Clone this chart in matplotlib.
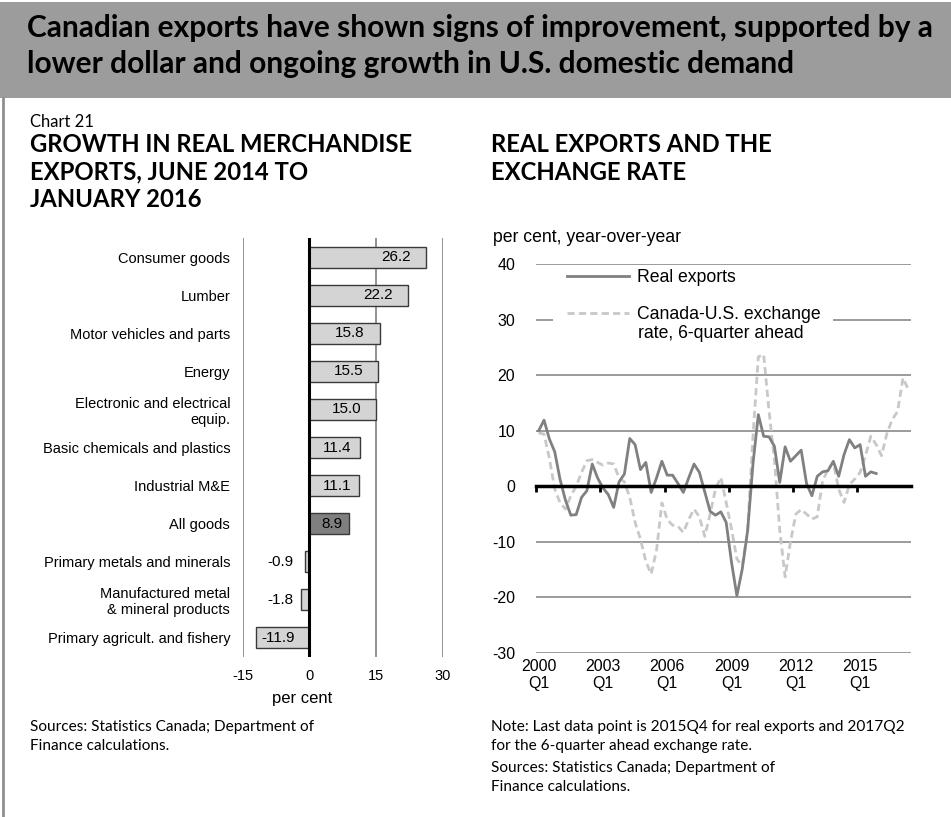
import matplotlib
matplotlib.use("Agg")
import matplotlib.pyplot as plt
from matplotlib.patches import Rectangle
from matplotlib.lines import Line2D

plt.rcParams["axes.unicode_minus"] = False

W, H = 951, 817

# left panel: growth in real merchandise exports, June 2014 to January 2016
categories = [
    "Consumer goods",
    "Lumber",
    "Motor vehicles and parts",
    "Energy",
    "Electronic and electrical\nequip.",
    "Basic chemicals and plastics",
    "Industrial M&E",
    "All goods",
    "Primary metals and minerals",
    "Manufactured metal\n& mineral products",
    "Primary agricult. and fishery",
]
growth = [26.2, 22.2, 15.8, 15.5, 15.0, 11.4, 11.1, 8.9, -0.9, -1.8, -11.9]
highlight = "All goods"
bar_ticks = [-15, 0, 15, 30]

# right panel: quarterly, year-over-year per cent, from 2000Q1
real_exports = [
    10.0, 11.9, 8.5, 6.2, 1.2, -2.5, -5.2, -5.1, -2.0, -0.8,
    4.0, 1.5, -0.3, -1.5, -3.8, 0.8, 2.2, 8.6, 7.5, 3.0,
    4.3, -1.1, 1.5, 4.5, 2.0, 2.0, 0.5, -1.1, 1.5, 4.0,
    2.5, -1.0, -4.5, -5.2, -4.6, -6.5, -13.7, -19.7, -14.9, -8.0,
    4.0, 12.9, 9.0, 8.9, 7.2, 0.7, 7.1, 4.5, 5.5, 6.5,
    0.5, -1.7, 1.8, 2.6, 2.8, 4.5, 1.8, 5.7, 8.4, 6.9,
    7.5, 1.8, 2.6, 2.3,
]
fx_6q_ahead = [
    9.6, 9.4, 5.0, -0.5, -3.0, -4.1, -1.7, 0.0, 2.5, 4.6,
    4.8, 4.3, 3.8, 4.2, 4.0, 1.5, 0.8, -2.0, -6.5, -9.5,
    -13.5, -15.8, -11.5, -3.0, -6.0, -7.0, -7.2, -8.3, -6.0, -4.1,
    -5.5, -9.0, -5.0, -0.5, 1.6, -2.9, -7.7, -13.1, -14.3, -8.0,
    9.0, 23.3, 23.7, 13.5, 4.8, -7.9, -16.3, -10.0, -5.0, -4.2,
    -5.0, -5.9, -5.5, 1.0, 3.0, 4.3, -0.5, -2.9, 0.3, 1.3,
    2.5, 5.5, 9.0, 7.5, 5.5, 9.5, 12.0, 13.5, 19.5, 17.4,
]
quarters = [f"{2000 + i // 4}Q{i % 4 + 1}" for i in range(len(fx_6q_ahead))]
label_every = 12
line_yticks = [-30, -20, -10, 0, 10, 20, 30, 40]

ARIAL = "Liberation Sans"
MYRIAD = "Lato"
NOTE_SIZE = 11.1


def fx(x):
    return x / W


def fy(y):
    return 1 - y / H


def bar_label_x(v):
    if v < 0:
        return min(-6.4, v * 0.6)
    return max(v - 6.7, v / 2 + 0.6)


fig = plt.figure(figsize=(W / 100, H / 100), dpi=100)

# header band and page rule
fig.patches.append(Rectangle((0, fy(98)), 1, fy(2) - fy(98), transform=fig.transFigure,
                             facecolor="#9c9c9c", edgecolor="none", zorder=0))
fig.add_artist(Line2D([fx(3), fx(3)], [0, fy(98)], color="#8f8f8f", lw=2))

fig.text(fx(27), fy(37), "Canadian exports have shown signs of improvement, supported by a",
         family=MYRIAD, weight="bold", fontsize=21.5, va="baseline")
fig.text(fx(27), fy(73), "lower dollar and ongoing growth in U.S. domestic demand",
         family=MYRIAD, weight="bold", fontsize=21.5, va="baseline")

fig.text(fx(30), fy(127), "Chart 21", family=MYRIAD, fontsize=12, va="baseline")
for k, line in enumerate(["GROWTH IN REAL MERCHANDISE", "EXPORTS, JUNE 2014 TO", "JANUARY 2016"]):
    fig.text(fx(30), fy(152 + 27.5 * k), line, family=MYRIAD, weight="bold", fontsize=17.2, va="baseline")
for k, line in enumerate(["REAL EXPORTS AND THE", "EXCHANGE RATE"]):
    fig.text(fx(491), fy(152 + 27.5 * k), line, family=MYRIAD, weight="bold", fontsize=17.2, va="baseline")

# ---- left: horizontal bars
ax1 = fig.add_axes([fx(242.7), fy(656.7), (442.7 - 242.7) / W, (656.7 - 238.3) / H])
pos = list(range(len(categories)))
colors = ["#7f7f7f" if c == highlight else "#d4d4d4" for c in categories]
ax1.barh(pos, growth, height=0.56, color=colors, edgecolor="#3a3a3a", linewidth=1, zorder=3)
for p, v in zip(pos, growth):
    ax1.text(bar_label_x(v), p, f"{v:.1f}", ha="center", va="center",
             family=ARIAL, fontsize=11, zorder=4)
ax1.set_xlim(-15, 30)
ax1.set_ylim(len(categories) - 0.5, -0.5)
ax1.set_xticks(bar_ticks)
ax1.set_yticks(pos, categories)
for s in ax1.spines.values():
    s.set_visible(False)
ax1.grid(axis="x", color="#8a8a8a", lw=1.3, zorder=1)
ax1.axvline(0, color="black", lw=2.2, zorder=5)
ax1.tick_params(length=0, labelsize=10.5)
ax1.tick_params(axis="y", pad=9)
ax1.tick_params(axis="x", pad=9)
for t in ax1.get_xticklabels() + ax1.get_yticklabels():
    t.set_family(ARIAL)
    t.set_linespacing(1.15)
fig.text(fx(302), fy(698), "per cent", ha="center", va="center", family=ARIAL, fontsize=12)

fig.text(fx(30), fy(731), "Sources: Statistics Canada; Department of", family=MYRIAD, fontsize=NOTE_SIZE, va="baseline")
fig.text(fx(30), fy(750), "Finance calculations.", family=MYRIAD, fontsize=NOTE_SIZE, va="baseline")

# ---- right: lines
ax2 = fig.add_axes([fx(536), fy(653), (911 - 536) / W, (653 - 264) / H])
idx = list(range(len(quarters)))
ax2.plot(idx[:len(real_exports)], real_exports, color="#808080", lw=2.0, zorder=4,
         label="Real exports")
ax2.plot(idx, fx_6q_ahead, color="#c8c8c8", lw=2.0, ls=(0, (2.6, 1.5)), zorder=3,
         label="Canada-U.S. exchange")
ax2.set_xlim(-0.5, len(quarters) - 0.5)
ax2.set_ylim(line_yticks[0], line_yticks[-1])
ax2.set_yticks(line_yticks)
xt = idx[::label_every][:6]
ax2.set_xticks(xt, [quarters[i][:4] + "\n" + quarters[i][4:] for i in xt])
for s in ax2.spines.values():
    s.set_visible(False)
ax2.grid(axis="y", color="#8a8a8a", lw=1.2, zorder=1)
ax2.grid(axis="x", visible=False)
ax2.tick_params(length=0, labelsize=11.5)
ax2.tick_params(axis="y", pad=15)
ax2.tick_params(axis="x", pad=4)
for t in ax2.get_xticklabels() + ax2.get_yticklabels():
    t.set_family(ARIAL)
    t.set_linespacing(1.2)
for tick, gl in zip(line_yticks, ax2.get_ygridlines()):
    if tick == 0:
        gl.set_visible(False)

# zero axis with tick marks between years
lo, hi = ax2.get_ylim()
zero = ax2.secondary_xaxis((0 - lo) / (hi - lo))
zero.set_zorder(5)
zero.set_xticks([i - 0.5 for i in xt])
zero.tick_params(labelbottom=False, length=4, width=2, direction="out", color="black")
zero.spines["bottom"].set_linewidth(2.5)
zero.spines["bottom"].set_color("black")

# white box behind legend
ax2.add_patch(Rectangle(((553 - 536) / 375, (653 - 345) / 389), (833 - 553) / 375, (345 - 300) / 389,
                        transform=ax2.transAxes, facecolor="white", edgecolor="none", zorder=2))
leg = ax2.legend(loc="upper left", bbox_to_anchor=(fx(567), fy(269)), bbox_transform=fig.transFigure,
                 frameon=False, borderpad=0, borderaxespad=0, handlelength=3.5, handletextpad=0.45,
                 labelspacing=1.12, prop={"family": ARIAL, "size": 12.7})
fig.text(fx(638), fy(333), "rate, 6-quarter ahead", va="center", family=ARIAL, fontsize=12.7)

fig.text(fx(493), fy(237), "per cent, year-over-year", va="center", family=ARIAL, fontsize=12.7)

notes = [
    (731, "Note: Last data point is 2015Q4 for real exports and 2017Q2"),
    (750, "for the 6-quarter ahead exchange rate."),
    (772, "Sources: Statistics Canada; Department of"),
    (791, "Finance calculations."),
]
for y, line in notes:
    fig.text(fx(491), fy(y), line, family=MYRIAD, fontsize=NOTE_SIZE, va="baseline")

fig.savefig("out.png", dpi=100)
